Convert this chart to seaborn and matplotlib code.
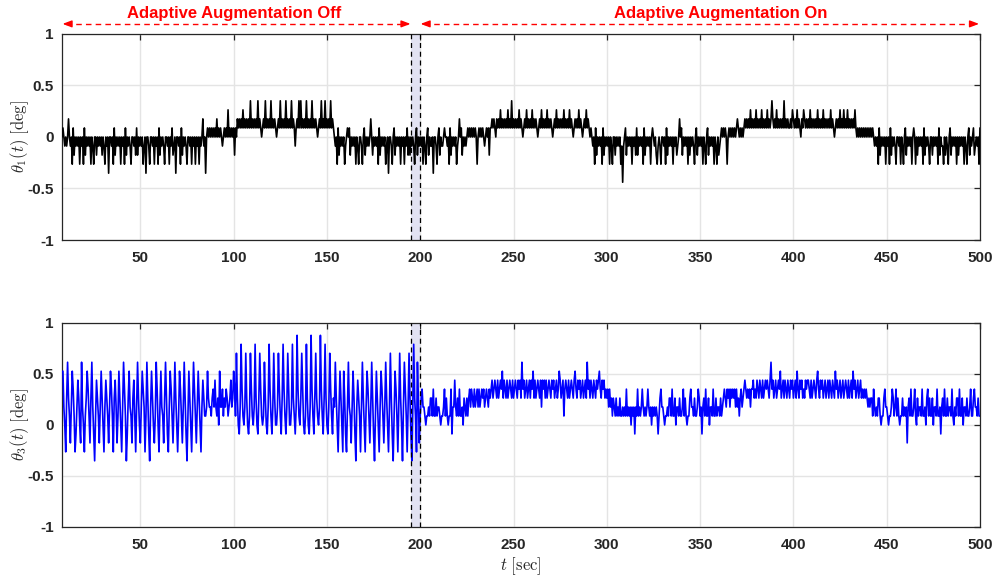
import numpy as np
import pandas as pd
import matplotlib
matplotlib.use("Agg")
import matplotlib.pyplot as plt
import seaborn as sns

# Encoder resolution (deg per count) and sample grid of the logged angles
QUANT = 360.0 / 4096.0
T_START = 8.0
T_STEP = 0.5
LEVEL_CODES = "0123456789ABCDEF"   # code index minus LEVEL_OFFSET = encoder count
LEVEL_OFFSET = 5

# theta_1 encoder counts, 10 s per row
theta1_counts = "".join([
    "56545457545263545452", "54526354545254255354", "54535425451554526354",
    "54525452635454255453", "63545452451554255452", "54526354542554525463",
    "45155452635454255452", "54525452545745156565", "65656575656545656585",
    "65656365767676867676", "76967676769676567696", "76769676765676967676",
    "96767696764676969676", "76967676967676567696", "76967676967654526354",
    "54524565635454525425", "54256354545753545452", "63545452451554256354",
    "54525452546353545425", "63545452542563544515", "54256354456554526354",
    "54524575635454565656", "56565256565654565636", "67676576768676767686",
    "76967676768676567686", "76768676765676867676", "86767656768676767686",
    "76768676567676867656", "76867656545263545452", "63545452542553545452",
    "40456354545254536354", "54526354545256545324", "54255452635454525453",
    "45756354545253545425", "63545452542563545452", "54253456565652565656",
    "56567656565676767686", "76768676768676768676", "79767686767676967676",
    "67687676867657687676", "76867676768676768676", "76768676567676867686",
    "76867676768656565656", "56565656565454526354", "54525452635454255452",
    "54256354545256525354", "54526354542553545452", "63544253542563545452",
    "53545452542563545634", "54526",
])

# theta_3 encoder counts, 10 s per row
theta3_counts = "".join([
    "BB7528C8637B96247A85", "3C75268B9638C7416A86", "37B8527A8637B9628A73",
    "6B8527C96148B7638A62", "7C8537B9726C8417B853", "6C9527B7638C8427B963",
    "7C8526B9637C8416B852", "7C9637B8527A8667B877", "6897A7685B7796879867",
    "8A78B96D8547E9657D85", "46D9657E8548D9656C85", "47E9647D8557D9648E96",
    "47D9557E8647F9658D95", "46E8547F9648D8657F96", "48E8547D96487C8527B8",
    "52B8427C7637B8417A86", "27C8527B9637C8416B85", "27B9637C8527D8416B96",
    "27D8517C9627D8417E86", "2C836897765667688696", "68677656679686566947",
    "7A768696675876868979", "87978979789897898798", "9A89A98A89A9B8A98A89",
    "A98A89A98A9A8C9A89A8", "9A8A9B8A89A98A7A9A8A", "89A98A9A89A89BA89A69",
    "A98A89A98AB98A9A89A8", "9A8C9A8A98A98A9AB98A", "9A898979786876867686",
    "67676967675767476967", "67976767976757676764", "68977656676886966857",
    "76866796865668977686", "67986747869668577696", "68677686789879897989",
    "897978689789A9898979", "9A898A98A98A89A9A98A", "C9A89A89A9B89A8A98A9",
    "8A9A89A8B98A9A898A9A", "A98A89A98AB98A9A89A8", "9A8A98A98B9A89A89A89",
    "A98A89A8B9A89A89A898", "98987878869767688656", "68977656679867968656",
    "68676737869667965867", "76966758968668577696", "67478696686776965768",
    "86966857768667966897", "76866",
])

x_limits = (8, 500)
y_limits = (-1, 1)
x_ticks = [50, 100, 150, 200, 250, 300, 350, 400, 450, 500]
y_ticks = [-1, -0.5, 0, 0.5, 1]
y_tick_labels = ["-1", "-0.5", "0", "0.5", "1"]
switch_window = (195, 200)          # adaptive augmentation switched on in this window
phase_labels = ["Adaptive Augmentation Off", "Adaptive Augmentation On"]
phase_spans = [(8.3, 194.8), (200.2, 499.5)]
phase_label_x = [100, 361]


def counts_to_deg(codes):
    return np.array([LEVEL_CODES.index(c) - LEVEL_OFFSET for c in codes]) * QUANT


def sample_times(n):
    return T_START + T_STEP * np.arange(n)


th1 = counts_to_deg(theta1_counts)
th3 = counts_to_deg(theta3_counts)
df1 = pd.DataFrame({"t": sample_times(len(th1)), "theta": th1})
df3 = pd.DataFrame({"t": sample_times(len(th3)), "theta": th3})

sns.set_theme(style="white")
plt.rcParams["font.family"] = ["Liberation Sans", "DejaVu Sans"]
plt.rcParams["mathtext.fontset"] = "cm"

fig = plt.figure(figsize=(9.95, 5.75), dpi=100)
ax1 = fig.add_axes([0.0623, 0.5826, 0.9226, 0.3583])
ax2 = fig.add_axes([0.0623, 0.0835, 0.9226, 0.3548])

box_color = "#262626"


def style_axes(ax, ylabel):
    ax.set_xlim(*x_limits)
    ax.set_ylim(*y_limits)
    ax.set_xticks(x_ticks)
    ax.set_xticklabels([str(v) for v in x_ticks])
    ax.set_yticks(y_ticks)
    ax.set_yticklabels(y_tick_labels)
    ax.grid(True, color="#e4e4e4", linewidth=1.0)
    ax.set_axisbelow(True)
    for sp in ax.spines.values():
        sp.set_visible(True)
        sp.set_color(box_color)
        sp.set_linewidth(0.9)
    ax.tick_params(direction="in", top=True, right=True, length=4.5, width=0.9,
                   color=box_color, labelcolor=box_color, labelsize=11, pad=6)
    ax.tick_params(axis="x", pad=8)
    for lbl in ax.get_xticklabels() + ax.get_yticklabels():
        lbl.set_fontweight("bold")
    ax.set_ylabel(ylabel, fontsize=12, color=box_color)
    ax.yaxis.set_label_coords(-0.034, 0.5)
    ax.set_xlabel("")
    # switching window
    ax.axvspan(*switch_window, facecolor="#e2e2f2", edgecolor="none", zorder=1.5)
    for xv in switch_window:
        ax.axvline(xv, color="black", linestyle=(0, (4, 3)), linewidth=0.9, zorder=4)


sns.lineplot(data=df1, x="t", y="theta", ax=ax1, color="black", linewidth=1.2,
             estimator=None, sort=False, zorder=3)
sns.lineplot(data=df3, x="t", y="theta", ax=ax2, color="#0000ff", linewidth=1.2,
             estimator=None, sort=False, zorder=3)

style_axes(ax1, r"$\theta_1(t)\ [\mathrm{deg}]$")
style_axes(ax2, r"$\theta_3(t)\ [\mathrm{deg}]$")
ax2.set_xlabel(r"$t\ [\mathrm{sec}]$", fontsize=12, color=box_color, labelpad=2)

# phase annotations above the top panel
trans = ax1.get_xaxis_transform()
arrow_y = 1.049
for (x0, x1), label, lx in zip(phase_spans, phase_labels, phase_label_x):
    ax1.plot([x0 + 2, x1 - 2], [arrow_y, arrow_y], transform=trans, color="red",
             linestyle=(0, (4, 3)), linewidth=1.0, clip_on=False)
    for tip, tail in ((x0, x0 + 4), (x1, x1 - 4)):
        ax1.annotate("", xy=(tip, arrow_y), xytext=(tail, arrow_y), xycoords=trans,
                     textcoords=trans, annotation_clip=False,
                     arrowprops=dict(arrowstyle="-|>,head_length=0.45,head_width=0.17",
                                     color="red", linewidth=1.0,
                                     shrinkA=0, shrinkB=0))
    ax1.text(lx, 1.099, label, transform=trans, ha="center", va="center",
             color="red", fontsize=12, fontweight="bold", clip_on=False)

fig.savefig("out.png", dpi=100)
